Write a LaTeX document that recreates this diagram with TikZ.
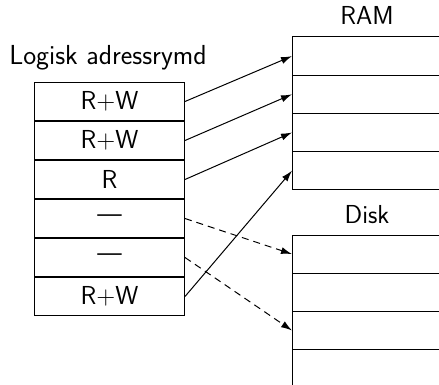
\documentclass[tikz,border=0pt]{standalone}
\usetikzlibrary{arrows.meta}
\begin{document}
\begin{tikzpicture}[x=1pt,y=-1pt,
  font=\sffamily\fontsize{26}{31}\selectfont,
  cell/.style={draw,line width=1pt,minimum width=150pt,minimum height=38pt,inner sep=0pt,anchor=north west},
  mem/.style={minimum width=147pt,minimum height=37.8pt,inner sep=0pt,anchor=north west},
  border/.style={line width=1pt},
  map/.style={line width=1pt,-{Latex[length=11pt,width=7pt]}},
  swap/.style={map,dashed,dash pattern=on 7pt off 5pt}]
\useasboundingbox (0,0) rectangle (439,385);
% logical address space
\node[anchor=base,font=\sffamily\fontsize{27.5}{33}\selectfont] (title) at (108,65) {Logisk adressrymd};
\node[cell] (l1) at (34,82) {R+W};
\node[cell] (l2) at (l1.south west) {R+W};
\node[cell] (l3) at (l2.south west) {R};
\node[cell] (l4) at (l3.south west) {---};
\node[cell] (l5) at (l4.south west) {---};
\node[cell] (l6) at (l5.south west) {R+W};
% RAM
\node[anchor=base] (ramlabel) at (367,25) {RAM};
\node[mem] (r1) at (292,37) {};
\node[mem] (r2) at (r1.south west) {};
\node[mem] (r3) at (r2.south west) {};
\node[mem] (r4) at (r3.south west) {};
\draw[border] (r1.north east) -- (r1.north west) -- (r4.south west) -- (r4.south east);
\foreach \i in {1,2,3} {\draw[border] (r\i.south west) -- (r\i.south east);}
% Disk
\node[anchor=base] (disklabel) at (367,223) {Disk};
\node[mem] (d1) at (292,235) {};
\node[mem] (d2) at (d1.south west) {};
\node[mem] (d3) at (d2.south west) {};
\node[mem] (d4) at (d3.south west) {};
\coordinate (dend) at (292,385);
\draw[border] (d1.north east) -- (d1.north west) -- (dend);
\foreach \i in {1,2,3} {\draw[border] (d\i.south west) -- (d\i.south east);}
% mappings
\draw[map] (l1.east) -- (r1.west);
\draw[map] (l2.east) -- (r2.west);
\draw[map] (l3.east) -- (r3.west);
\draw[map] (l6.east) -- (r4.west);
\draw[swap] (l4.east) -- (d1.west);
\draw[swap] (l5.east) -- (d3.west);
\end{tikzpicture}
\end{document}
